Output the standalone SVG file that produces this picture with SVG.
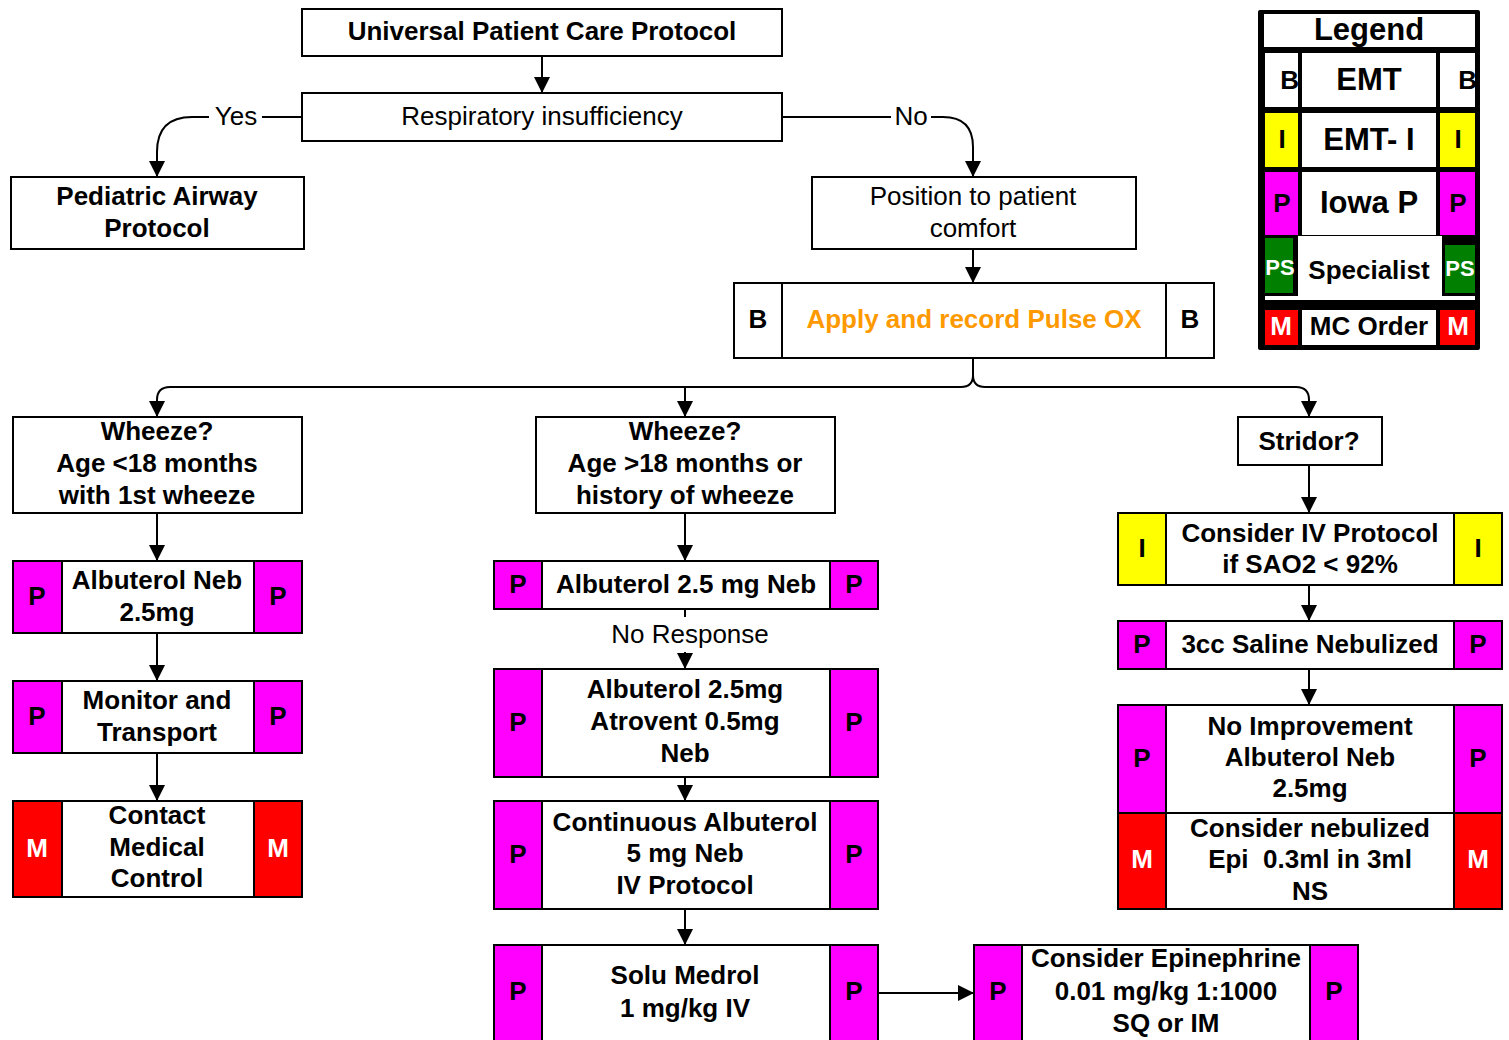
<svg xmlns="http://www.w3.org/2000/svg" width="1509" height="1040" viewBox="0 0 1509 1040">
  <style>
    .box { fill: #ffffff; stroke: #000000; stroke-width: 2; }
    .mag { fill: #ff00ff; stroke: #000000; stroke-width: 2; }
    .yel { fill: #ffff00; stroke: #000000; stroke-width: 2; }
    .red { fill: #ff0000; stroke: #000000; stroke-width: 2; }
    .grn { fill: #007f00; stroke: #000000; stroke-width: 2; }
    .edge { fill: none; stroke: #000000; stroke-width: 2; }
    .t { font-family: "Liberation Sans", Arial, Helvetica, sans-serif; font-size: 26px; text-anchor: middle; fill: #000000; }
    .b { font-weight: bold; }
    .w { fill: #ffffff; }
    .o { fill: #ff9900; }
    .lg { font-size: 31px; }
    .ps { font-size: 22px; }
  </style>
  <defs>
    <marker id="arr" markerUnits="userSpaceOnUse" markerWidth="16" markerHeight="16" viewBox="0 0 16 16" refX="16" refY="8" orient="auto">
      <path d="M0,0 L16,8 L0,16 z" fill="#000000"/>
    </marker>
  </defs>

  <rect width="1509" height="1040" fill="#ffffff"/>

  <!-- connectors -->
  <g id="connectors">
    <path class="edge" d="M542,56 V93" marker-end="url(#arr)"/>
    <!-- Yes branch -->
    <path class="edge" d="M302,117 H262"/>
    <path class="edge" d="M209,117 H192 Q157,117 157,152 V177" marker-end="url(#arr)"/>
    <!-- No branch -->
    <path class="edge" d="M782,117 H891"/>
    <path class="edge" d="M931,117 H943 Q973,117 973,147 V177" marker-end="url(#arr)"/>
    <path class="edge" d="M973,249 V283" marker-end="url(#arr)"/>
    <!-- split below pulse ox -->
    <path class="edge" d="M973,358 V375 Q973,387 961,387 H170 Q157,387 157,400 V417" marker-end="url(#arr)"/>
    <path class="edge" d="M973,375 Q973,387 985,387 H1296 Q1309,387 1309,400 V417" marker-end="url(#arr)"/>
    <path class="edge" d="M685,387 V417" marker-end="url(#arr)"/>
    <!-- left column -->
    <path class="edge" d="M157,513 V561" marker-end="url(#arr)"/>
    <path class="edge" d="M157,633 V681" marker-end="url(#arr)"/>
    <path class="edge" d="M157,753 V801" marker-end="url(#arr)"/>
    <!-- middle column -->
    <path class="edge" d="M685,513 V561" marker-end="url(#arr)"/>
    <path class="edge" d="M685,609 V617"/>
    <path class="edge" d="M685,652 V669" marker-end="url(#arr)"/>
    <path class="edge" d="M685,777 V801" marker-end="url(#arr)"/>
    <path class="edge" d="M685,909 V945" marker-end="url(#arr)"/>
    <path class="edge" d="M878,993 H974" marker-end="url(#arr)"/>
    <!-- right column -->
    <path class="edge" d="M1309,465 V513" marker-end="url(#arr)"/>
    <path class="edge" d="M1309,585 V621" marker-end="url(#arr)"/>
    <path class="edge" d="M1309,669 V705" marker-end="url(#arr)"/>
    <text class="t" x="236" y="125">Yes</text>
    <text class="t" x="911" y="125">No</text>
    <text class="t" x="690" y="643">No Response</text>
  </g>

  <g id="n-universal">
    <rect class="box" x="302" y="9" width="480" height="47"/>
    <text class="t b" x="542" y="40">Universal Patient Care Protocol</text>
  </g>

  <g id="n-resp">
    <rect class="box" x="302" y="93" width="480" height="48"/>
    <text class="t" x="542" y="125">Respiratory insufficiency</text>
  </g>

  <g id="n-pediatric">
    <rect class="box" x="11" y="177" width="293" height="72"/>
    <text class="t b" x="157" y="205">Pediatric Airway</text>
    <text class="t b" x="157" y="237">Protocol</text>
  </g>

  <g id="n-position">
    <rect class="box" x="812" y="177" width="324" height="72"/>
    <text class="t" x="973" y="205">Position to patient</text>
    <text class="t" x="973" y="237">comfort</text>
  </g>

  <g id="n-pulseox">
    <rect class="box" x="734" y="283" width="480" height="75"/>
    <rect class="box" x="734" y="283" width="48" height="75"/>
    <rect class="box" x="1166" y="283" width="48" height="75"/>
    <text class="t b" x="758" y="328">B</text>
    <text class="t b o" x="974" y="328">Apply and record Pulse OX</text>
    <text class="t b" x="1190" y="328">B</text>
  </g>

  <g id="n-wheeze-young">
    <rect class="box" x="13" y="417" width="289" height="96"/>
    <text class="t b" x="157" y="440">Wheeze?</text>
    <text class="t b" x="157" y="472">Age &lt;18 months</text>
    <text class="t b" x="157" y="504">with 1st wheeze</text>
  </g>

  <g id="n-wheeze-older">
    <rect class="box" x="536" y="417" width="299" height="96"/>
    <text class="t b" x="685" y="440">Wheeze?</text>
    <text class="t b" x="685" y="472">Age &gt;18 months or</text>
    <text class="t b" x="685" y="504">history of wheeze</text>
  </g>

  <g id="n-stridor">
    <rect class="box" x="1238" y="417" width="144" height="48"/>
    <text class="t b" x="1309" y="450">Stridor?</text>
  </g>

  <!-- left column -->
  <g id="n-alb-neb-left">
    <rect class="box" x="13" y="561" width="289" height="72"/>
    <rect class="mag" x="13" y="561" width="49" height="72"/>
    <rect class="mag" x="254" y="561" width="48" height="72"/>
    <text class="t b" x="37" y="605">P</text>
    <text class="t b" x="157" y="589">Albuterol Neb</text>
    <text class="t b" x="157" y="621">2.5mg</text>
    <text class="t b" x="278" y="605">P</text>
  </g>

  <g id="n-monitor">
    <rect class="box" x="13" y="681" width="289" height="72"/>
    <rect class="mag" x="13" y="681" width="49" height="72"/>
    <rect class="mag" x="254" y="681" width="48" height="72"/>
    <text class="t b" x="37" y="725">P</text>
    <text class="t b" x="157" y="709">Monitor and</text>
    <text class="t b" x="157" y="741">Transport</text>
    <text class="t b" x="278" y="725">P</text>
  </g>

  <g id="n-contact">
    <rect class="box" x="13" y="801" width="289" height="96"/>
    <rect class="red" x="13" y="801" width="49" height="96"/>
    <rect class="red" x="254" y="801" width="48" height="96"/>
    <text class="t b w" x="37" y="857">M</text>
    <text class="t b" x="157" y="824">Contact</text>
    <text class="t b" x="157" y="856">Medical</text>
    <text class="t b" x="157" y="887">Control</text>
    <text class="t b w" x="278" y="857">M</text>
  </g>

  <!-- middle column -->
  <g id="n-alb-neb-mid">
    <rect class="box" x="494" y="561" width="384" height="48"/>
    <rect class="mag" x="494" y="561" width="48" height="48"/>
    <rect class="mag" x="830" y="561" width="48" height="48"/>
    <text class="t b" x="518" y="593">P</text>
    <text class="t b" x="686" y="593">Albuterol 2.5 mg Neb</text>
    <text class="t b" x="854" y="593">P</text>
  </g>

  <g id="n-atrovent">
    <rect class="box" x="494" y="669" width="384" height="108"/>
    <rect class="mag" x="494" y="669" width="48" height="108"/>
    <rect class="mag" x="830" y="669" width="48" height="108"/>
    <text class="t b" x="518" y="731">P</text>
    <text class="t b" x="685" y="698">Albuterol 2.5mg</text>
    <text class="t b" x="685" y="730">Atrovent 0.5mg</text>
    <text class="t b" x="685" y="762">Neb</text>
    <text class="t b" x="854" y="731">P</text>
  </g>

  <g id="n-continuous">
    <rect class="box" x="494" y="801" width="384" height="108"/>
    <rect class="mag" x="494" y="801" width="48" height="108"/>
    <rect class="mag" x="830" y="801" width="48" height="108"/>
    <text class="t b" x="518" y="863">P</text>
    <text class="t b" x="685" y="831">Continuous Albuterol</text>
    <text class="t b" x="685" y="862">5 mg Neb</text>
    <text class="t b" x="685" y="894">IV Protocol</text>
    <text class="t b" x="854" y="863">P</text>
  </g>

  <g id="n-solumedrol">
    <rect class="box" x="494" y="945" width="384" height="110"/>
    <rect class="mag" x="494" y="945" width="48" height="110"/>
    <rect class="mag" x="830" y="945" width="48" height="110"/>
    <text class="t b" x="518" y="1000">P</text>
    <text class="t b" x="685" y="984">Solu Medrol</text>
    <text class="t b" x="685" y="1017">1 mg/kg IV</text>
    <text class="t b" x="854" y="1000">P</text>
  </g>

  <g id="n-epinephrine">
    <rect class="box" x="974" y="945" width="384" height="110"/>
    <rect class="mag" x="974" y="945" width="48" height="110"/>
    <rect class="mag" x="1310" y="945" width="48" height="110"/>
    <text class="t b" x="998" y="1000">P</text>
    <text class="t b" x="1166" y="967">Consider Epinephrine</text>
    <text class="t b" x="1166" y="1000">0.01 mg/kg 1:1000</text>
    <text class="t b" x="1166" y="1032">SQ or IM</text>
    <text class="t b" x="1334" y="1000">P</text>
  </g>

  <!-- right column -->
  <g id="n-iv-protocol">
    <rect class="box" x="1118" y="513" width="384" height="72"/>
    <rect class="yel" x="1118" y="513" width="48" height="72"/>
    <rect class="yel" x="1454" y="513" width="48" height="72"/>
    <text class="t b" x="1142" y="557">I</text>
    <text class="t b" x="1310" y="542">Consider IV Protocol</text>
    <text class="t b" x="1310" y="573">if SAO2 &lt; 92%</text>
    <text class="t b" x="1478" y="557">I</text>
  </g>

  <g id="n-saline">
    <rect class="box" x="1118" y="621" width="384" height="48"/>
    <rect class="mag" x="1118" y="621" width="48" height="48"/>
    <rect class="mag" x="1454" y="621" width="48" height="48"/>
    <text class="t b" x="1142" y="653">P</text>
    <text class="t b" x="1310" y="653">3cc Saline Nebulized</text>
    <text class="t b" x="1478" y="653">P</text>
  </g>

  <g id="n-no-improvement">
    <rect class="box" x="1118" y="705" width="384" height="108"/>
    <rect class="mag" x="1118" y="705" width="48" height="108"/>
    <rect class="mag" x="1454" y="705" width="48" height="108"/>
    <text class="t b" x="1142" y="767">P</text>
    <text class="t b" x="1310" y="735">No Improvement</text>
    <text class="t b" x="1310" y="766">Albuterol Neb</text>
    <text class="t b" x="1310" y="797">2.5mg</text>
    <text class="t b" x="1478" y="767">P</text>
  </g>

  <g id="n-nebulized-epi">
    <rect class="box" x="1118" y="813" width="384" height="96"/>
    <rect class="red" x="1118" y="813" width="48" height="96"/>
    <rect class="red" x="1454" y="813" width="48" height="96"/>
    <text class="t b w" x="1142" y="868">M</text>
    <text class="t b" x="1310" y="837">Consider nebulized</text>
    <text class="t b" x="1310" y="868" xml:space="preserve">Epi  0.3ml in 3ml</text>
    <text class="t b" x="1310" y="900">NS</text>
    <text class="t b w" x="1478" y="868">M</text>
  </g>

  <!-- legend -->
  <g id="legend">
    <rect x="1258" y="10" width="222" height="340" rx="2" fill="#000000"/>
    <rect x="1264" y="14" width="211" height="33" fill="#ffffff"/>
    <text class="t b lg" x="1369" y="40">Legend</text>

    <rect x="1265" y="53" width="33" height="54" fill="#ffffff"/>
    <rect x="1302" y="53" width="134" height="54" fill="#ffffff"/>
    <rect x="1440" y="53" width="35" height="54" fill="#ffffff"/>
    <text class="t b" x="1299" y="89" text-anchor="end" style="text-anchor:end">B</text>
    <text class="t b lg" x="1369" y="90">EMT</text>
    <text class="t b" x="1477" y="89" style="text-anchor:end">B</text>

    <rect x="1265" y="113" width="33" height="54" fill="#ffff00"/>
    <rect x="1302" y="113" width="134" height="54" fill="#ffffff"/>
    <rect x="1440" y="113" width="35" height="54" fill="#ffff00"/>
    <text class="t b" x="1282" y="148">I</text>
    <text class="t b lg" x="1369" y="150">EMT- I</text>
    <text class="t b" x="1458" y="148">I</text>

    <rect x="1265" y="172" width="33" height="63" fill="#ff00ff"/>
    <rect x="1302" y="172" width="134" height="63" fill="#ffffff"/>
    <rect x="1440" y="172" width="35" height="63" fill="#ff00ff"/>
    <text class="t b" x="1282" y="212">P</text>
    <text class="t b lg" x="1369" y="213">Iowa P</text>
    <text class="t b" x="1458" y="212">P</text>

    <rect x="1298" y="236" width="144" height="64" fill="#ffffff"/>
    <rect x="1265" y="296" width="210" height="4" fill="#ffffff"/>
    <rect x="1265" y="238" width="28" height="55" fill="#007f00"/>
    <rect x="1445" y="245" width="30" height="48" fill="#007f00"/>
    <text class="t b w ps" x="1280" y="275">PS</text>
    <text class="t b" x="1369" y="279">Specialist</text>
    <text class="t b w ps" x="1460" y="276">PS</text>

    <rect x="1265" y="310" width="33" height="35" fill="#ff0000"/>
    <rect x="1302" y="310" width="134" height="35" fill="#ffffff"/>
    <rect x="1440" y="310" width="35" height="35" fill="#ff0000"/>
    <text class="t b w" x="1281" y="335">M</text>
    <text class="t b" x="1369" y="335">MC Order</text>
    <text class="t b w" x="1458" y="335">M</text>
  </g>
</svg>
